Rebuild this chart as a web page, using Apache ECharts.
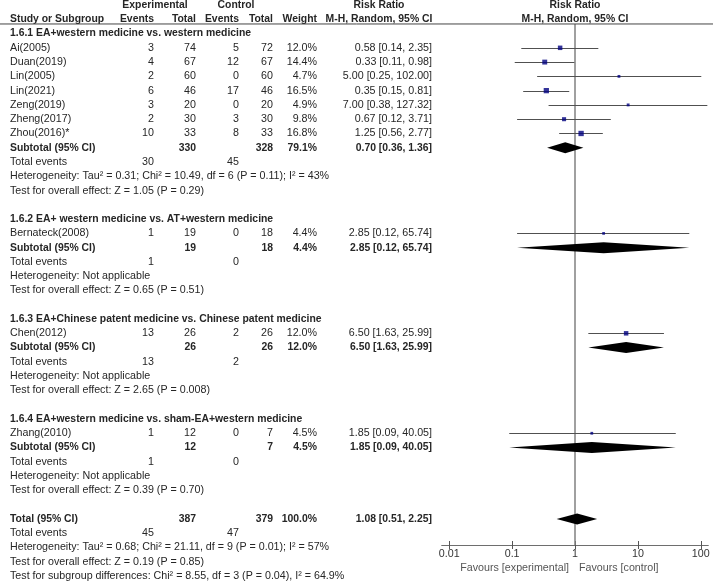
<!DOCTYPE html>
<html>
<head>
<meta charset="utf-8">
<script src="https://cdn.jsdelivr.net/npm/echarts@6/dist/echarts.min.js"></script>
<style>
  html, body { margin: 0; padding: 0; background: #fff; }
  #chart { width: 719px; height: 581px; }
</style>
</head>
<body>
<div id="chart"></div>
<script>
// study level data
const studies = ["Ai(2005)", "Duan(2019)", "Lin(2005)", "Lin(2021)", "Zeng(2019)", "Zheng(2017)", "Zhou(2016)*", "Bernateck(2008)", "Chen(2012)", "Zhang(2010)"];
const studyGroup = [0, 0, 0, 0, 0, 0, 0, 1, 2, 3];
const expEvents = [3, 4, 2, 6, 3, 2, 10, 1, 13, 1];
const expTotal = [74, 67, 60, 46, 20, 30, 33, 19, 26, 12];
const ctrlEvents = [5, 12, 0, 17, 0, 3, 8, 0, 2, 0];
const ctrlTotal = [72, 67, 60, 46, 20, 30, 33, 18, 26, 7];
const weights = [12.0, 14.4, 4.7, 16.5, 4.9, 9.8, 16.8, 4.4, 12.0, 4.5];
const rr = [0.58, 0.33, 5.0, 0.35, 7.0, 0.67, 1.25, 2.85, 6.5, 1.85];
const rrLow = [0.14, 0.11, 0.25, 0.15, 0.38, 0.12, 0.56, 0.12, 1.63, 0.09];
const rrHigh = [2.35, 0.98, 102.0, 0.81, 127.32, 3.71, 2.77, 65.74, 25.99, 40.05];

// subgroups
const groupNames = [
  "1.6.1 EA+western medicine vs. western medicine",
  "1.6.2 EA+ western medicine vs. AT+western medicine",
  "1.6.3 EA+Chinese patent medicine vs. Chinese patent medicine",
  "1.6.4 EA+western medicine vs. sham-EA+western medicine",
];
const subExpTotal = [330, 19, 26, 12];
const subCtrlTotal = [328, 18, 26, 7];
const subExpEvents = [30, 1, 13, 1];
const subCtrlEvents = [45, 0, 2, 0];
const subWeight = [79.1, 4.4, 12.0, 4.5];
const subRR = [0.7, 2.85, 6.5, 1.85];
const subLow = [0.36, 0.12, 1.63, 0.09];
const subHigh = [1.36, 65.74, 25.99, 40.05];
const subHet = [
  "Heterogeneity: Tau\u00b2 = 0.31; Chi\u00b2 = 10.49, df = 6 (P = 0.11); I\u00b2 = 43%",
  "Heterogeneity: Not applicable",
  "Heterogeneity: Not applicable",
  "Heterogeneity: Not applicable",
];
const subEffect = [
  "Test for overall effect: Z = 1.05 (P = 0.29)",
  "Test for overall effect: Z = 0.65 (P = 0.51)",
  "Test for overall effect: Z = 2.65 (P = 0.008)",
  "Test for overall effect: Z = 0.39 (P = 0.70)",
];

// overall
const totalExp = 387;
const totalCtrl = 379;
const totalExpEvents = 45;
const totalCtrlEvents = 47;
const totalRR = [1.08, 0.51, 2.25];
const totalHet = "Heterogeneity: Tau\u00b2 = 0.68; Chi\u00b2 = 21.11, df = 9 (P = 0.01); I\u00b2 = 57%";
const totalEffect = "Test for overall effect: Z = 0.19 (P = 0.85)";
const subgroupDiff = "Test for subgroup differences: Chi\u00b2 = 8.55, df = 3 (P = 0.04), I\u00b2 = 64.9%";

const axisTicks = [0.01, 0.1, 1, 10, 100];

// column anchors (table, px)
const COL = { name: 10, expEv: 154, expTot: 196, ctlEv: 239, ctlTot: 273, weight: 317, rr: 379, rrRight: 432 };

const tableText = [];
const plotText = [];
const ciLines = [];
const squares = [];
const diamonds = [];

const fmtRR = (e, l, h) => `${e.toFixed(2)} [${l.toFixed(2)}, ${h.toFixed(2)}]`;
const t = (x, row, text, align, bold) => tableText.push({ x, row, text: String(text), align: align || "left", bold: !!bold });

// headers
t(155, 0, "Experimental", "center", true);
t(236, 0, "Control", "center", true);
t(COL.rr, 0, "Risk Ratio", "center", true);
t(COL.name, 1, "Study or Subgroup", "left", true);
t(COL.expEv, 1, "Events", "right", true);
t(COL.expTot, 1, "Total", "right", true);
t(COL.ctlEv, 1, "Events", "right", true);
t(COL.ctlTot, 1, "Total", "right", true);
t(COL.weight, 1, "Weight", "right", true);
t(COL.rr, 1, "M-H, Random, 95% CI", "center", true);
plotText.push({ x: 0, row: 0, text: "Risk Ratio", align: "center", bold: true });
plotText.push({ x: 0, row: 1, text: "M-H, Random, 95% CI", align: "center", bold: true });

let row = 2;
groupNames.forEach((g, gi) => {
  t(COL.name, row, g, "left", true);
  row++;
  studies.forEach((s, i) => {
    if (studyGroup[i] !== gi) return;
    t(COL.name, row, s);
    t(COL.expEv, row, expEvents[i], "right");
    t(COL.expTot, row, expTotal[i], "right");
    t(COL.ctlEv, row, ctrlEvents[i], "right");
    t(COL.ctlTot, row, ctrlTotal[i], "right");
    t(COL.weight, row, weights[i].toFixed(1) + "%", "right");
    t(COL.rrRight, row, fmtRR(rr[i], rrLow[i], rrHigh[i]), "right");
    ciLines.push([Math.log10(rrLow[i]), Math.log10(rrHigh[i]), row]);
    squares.push([Math.log10(rr[i]), row, weights[i]]);
    row++;
  });
  t(COL.name, row, "Subtotal (95% CI)", "left", true);
  t(COL.expTot, row, subExpTotal[gi], "right", true);
  t(COL.ctlTot, row, subCtrlTotal[gi], "right", true);
  t(COL.weight, row, subWeight[gi].toFixed(1) + "%", "right", true);
  t(COL.rrRight, row, fmtRR(subRR[gi], subLow[gi], subHigh[gi]), "right", true);
  diamonds.push([Math.log10(subLow[gi]), Math.log10(subRR[gi]), Math.log10(subHigh[gi]), row]);
  row++;
  t(COL.name, row, "Total events");
  t(COL.expEv, row, subExpEvents[gi], "right");
  t(COL.ctlEv, row, subCtrlEvents[gi], "right");
  row++;
  t(COL.name, row++, subHet[gi]);
  t(COL.name, row++, subEffect[gi]);
  row++;
});

t(COL.name, row, "Total (95% CI)", "left", true);
t(COL.expTot, row, totalExp, "right", true);
t(COL.ctlTot, row, totalCtrl, "right", true);
t(COL.weight, row, "100.0%", "right", true);
t(COL.rrRight, row, fmtRR(totalRR[0], totalRR[1], totalRR[2]), "right", true);
diamonds.push([Math.log10(totalRR[1]), Math.log10(totalRR[0]), Math.log10(totalRR[2]), row]);
row++;
t(COL.name, row, "Total events");
t(COL.expEv, row, totalExpEvents, "right");
t(COL.ctlEv, row, totalCtrlEvents, "right");
row++;
t(COL.name, row++, totalHet);
t(COL.name, row++, totalEffect);
t(COL.name, row++, subgroupDiff);

plotText.push({ x: 0, row: 39.44, text: "Favours [experimental]", align: "right", bold: false, dx: -6, color: "#555" });
plotText.push({ x: 0, row: 39.44, text: "Favours [control]", align: "left", bold: false, dx: 4, color: "#555" });

const FONT = '"Liberation Sans", Arial, sans-serif';
const ROW_MIN = -0.35, ROW_MAX = 40.35;
const LOG_MIN = -2.12, LOG_MAX = 2.12;

function textRenderer(list) {
  return function (params, api) {
    const it = list[params.dataIndex];
    const p = api.coord([api.value(0), api.value(1)]);
    return {
      type: "text",
      x: p[0] + (it.dx || 0),
      y: p[1],
      style: {
        text: it.text,
        fill: it.color || "#262626",
        font: it.bold ? "bold 10.4px " + FONT : "10.7px " + FONT,
        align: it.align,
        verticalAlign: "middle",
      },
    };
  };
}

const chart = echarts.init(document.getElementById("chart"));

const option = {
  animation: false,
  grid: [
    { left: 0, top: 0, width: 719, height: 581, outerBoundsMode: "none" },
    { left: 441.7, top: 0, width: 266.6, height: 581, outerBoundsMode: "none" },
    { left: 441.7, top: 500, width: 266.6, height: 45, outerBoundsMode: "none" },
  ],
  xAxis: [
    { gridIndex: 0, type: "value", min: 0, max: 719, show: false },
    { gridIndex: 1, type: "value", min: LOG_MIN, max: LOG_MAX, show: false },
    {
      gridIndex: 2, type: "value", min: LOG_MIN, max: LOG_MAX, position: "bottom",
      splitLine: { show: false },
      axisLine: { show: true, lineStyle: { color: "#6e6e6e", width: 1 } },
      axisTick: { show: true, length: 4, customValues: axisTicks.map(Math.log10), lineStyle: { color: "#555" } },
      axisLabel: {
        show: true, margin: 4, color: "#333", fontSize: 10.7, fontFamily: FONT,
        customValues: axisTicks.map(Math.log10),
        formatter: (v) => String(axisTicks[Math.round(v) + 2]),
      },
    },
    {
      gridIndex: 2, type: "value", min: LOG_MIN, max: LOG_MAX, position: "bottom",
      splitLine: { show: false },
      axisLine: { show: false },
      axisTick: { show: true, inside: true, length: 4, customValues: axisTicks.map(Math.log10), lineStyle: { color: "#555" } },
      axisLabel: { show: false },
    },
  ],
  yAxis: [
    { gridIndex: 0, type: "value", min: ROW_MIN, max: ROW_MAX, inverse: true, show: false },
    { gridIndex: 1, type: "value", min: ROW_MIN, max: ROW_MAX, inverse: true, show: false },
    { gridIndex: 2, type: "value", show: false },
  ],
  series: [
    {
      // header rule
      type: "line", xAxisIndex: 0, yAxisIndex: 0, silent: true, symbol: "none",
      data: [[0, 1.33], [713, 1.33]],
      lineStyle: { color: "#444", width: 1 },
    },
    {
      type: "custom", xAxisIndex: 0, yAxisIndex: 0, silent: true,
      data: tableText.map((d) => [d.x, d.row]),
      renderItem: textRenderer(tableText),
    },
    {
      type: "custom", xAxisIndex: 1, yAxisIndex: 1, silent: true,
      data: plotText.map((d) => [d.x, d.row]),
      renderItem: textRenderer(plotText),
    },
    {
      // line of no effect
      type: "line", xAxisIndex: 1, yAxisIndex: 1, silent: true, symbol: "none",
      data: [[0, 1.33], [0, 37.83]],
      lineStyle: { color: "#808080", width: 1.5 },
      z: 1,
    },
    {
      type: "custom", xAxisIndex: 1, yAxisIndex: 1, silent: true,
      data: ciLines,
      renderItem: (params, api) => {
        const a = api.coord([api.value(0), api.value(2)]);
        const b = api.coord([api.value(1), api.value(2)]);
        return {
          type: "line",
          shape: { x1: a[0], y1: Math.round(a[1]) + 0.5, x2: b[0], y2: Math.round(b[1]) + 0.5 },
          style: { stroke: "#505050", lineWidth: 1 },
        };
      },
      z: 3,
    },
    {
      type: "scatter", xAxisIndex: 1, yAxisIndex: 1, silent: true,
      symbol: "rect",
      symbolSize: (v) => 1.3 * Math.sqrt(v[2]),
      itemStyle: { color: "#00007f" },
      data: squares,
      z: 4,
    },
    {
      type: "custom", xAxisIndex: 1, yAxisIndex: 1, silent: true,
      data: diamonds,
      renderItem: (params, api) => {
        const r = api.value(3);
        const lo = api.coord([api.value(0), r]);
        const mid = api.coord([api.value(1), r]);
        const hi = api.coord([api.value(2), r]);
        const h = 5.5;
        return {
          type: "polygon",
          shape: { points: [[lo[0], lo[1]], [mid[0], mid[1] - h], [hi[0], hi[1]], [mid[0], mid[1] + h]] },
          style: { fill: "#000" },
        };
      },
      z: 4,
    },
  ],
};

chart.setOption(option);

window.addEventListener("resize", function () {
  chart.resize();
});
</script>
</body>
</html>
